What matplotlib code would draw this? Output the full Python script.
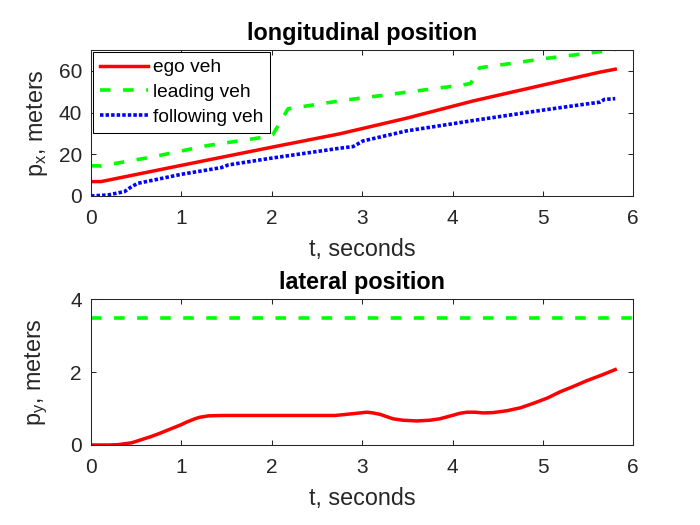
import numpy as np
import matplotlib
matplotlib.use('Agg')
import matplotlib.pyplot as plt

plt.rcParams['font.family'] = ['Liberation Sans', 'DejaVu Sans']
plt.rcParams['mathtext.fontset'] = 'custom'
plt.rcParams['mathtext.rm'] = 'Liberation Sans'
plt.rcParams['lines.scale_dashes'] = False

# longitudinal position (m)
t_ego = [0, 0.11, 1.0, 2.0, 2.75, 3.49, 4.23, 5.0, 5.63, 5.8]
px_ego = [6.9, 6.9, 14.7, 23.4, 29.8, 37.3, 45.6, 53.2, 59.4, 60.8]

t_lead = [0, 0.11, 0.7, 1.29, 1.96, 2.01, 2.18, 2.75, 2.84, 4.12, 4.2, 4.3, 4.67, 5.0, 5.41, 5.8]
px_lead = [14.5, 14.4, 18.9, 24.2, 28.5, 29.3, 41.8, 45.6, 46.1, 53.3, 54.0, 61.5, 63.7, 65.8, 68.0, 70.1]

t_fol = [0, 0.19, 0.37, 0.45, 0.52, 0.70, 1.0, 1.44, 1.52, 1.99, 2.75, 2.90, 3.01,
         3.49, 4.23, 4.97, 5.41, 5.63, 5.68, 5.8]
px_fol = [0, 0.5, 2.1, 4.5, 6.1, 7.7, 10.4, 13.6, 14.9, 18.1, 22.9, 23.7, 26.4,
          31.2, 36.2, 41.0, 43.7, 45.0, 46.3, 46.7]

# lateral position (m)
t_lat = [0, 0.1, 0.2, 0.3, 0.45, 0.55, 0.65, 0.75, 0.85, 0.93, 1.0, 1.05, 1.1, 1.15, 1.2,
         1.25, 1.3, 1.45, 2.0, 2.7, 2.9, 3.05, 3.12, 3.2, 3.34, 3.45, 3.6, 3.75, 3.86,
         4.01, 4.08, 4.16, 4.25, 4.34, 4.45, 4.6, 4.75, 4.89, 5.05, 5.19, 5.33, 5.48,
         5.65, 5.8]
py_ego = [0, 0, 0, 0.01, 0.06, 0.14, 0.22, 0.31, 0.41, 0.49, 0.56, 0.62, 0.67, 0.72, 0.76,
          0.78, 0.8, 0.81, 0.81, 0.81, 0.86, 0.9, 0.88, 0.84, 0.72, 0.68, 0.66, 0.68, 0.72,
          0.82, 0.87, 0.9, 0.9, 0.88, 0.89, 0.94, 1.02, 1.14, 1.29, 1.46, 1.6, 1.76,
          1.92, 2.07]
t_lane = [0, 6]
py_lead = [3.5, 3.5]

axc = '#262626'
fig = plt.figure(figsize=(7, 5.25), dpi=100)
ax1 = fig.add_axes([0.13, 0.6267, 0.7747, 0.278])
ax2 = fig.add_axes([0.13, 0.1524, 0.7747, 0.2775])

ax1.plot(t_ego, px_ego, color=(1, 0, 0), lw=2.5, label='ego veh')
ax1.plot(t_lead, px_lead, color=(0, 1, 0), lw=2.6, dashes=(7.6, 9.0), label='leading veh')
ax1.plot(t_fol, px_fol, color=(0, 0, 1), lw=2.6, dashes=(2.5, 1.5), dash_capstyle='butt',
         label='following veh')
ax1.set_ylim(0, 70)
ax1.set_yticks([0, 20, 40, 60])
ax1.set_title('longitudinal position', fontsize=16.8, fontweight='bold', pad=7.2)
ax1.set_ylabel(r'p$_\mathregular{x}$, meters', fontsize=16.8, color=axc)
leg = ax1.legend(loc='upper left', fontsize=13.8, handlelength=2.5, handletextpad=0.25,
                 borderpad=0.35, borderaxespad=0.12, labelspacing=0.38, fancybox=False,
                 framealpha=1)
leg.get_frame().set_edgecolor('black')
leg.get_frame().set_linewidth(0.75)

ax2.plot(t_lat, py_ego, color=(1, 0, 0), lw=2.5)
ax2.plot(t_lane, py_lead, color=(0, 1, 0), lw=2.6, dashes=(7.6, 9.0))
ax2.set_ylim(0, 4)
ax2.set_yticks([0, 2, 4])
ax2.set_title('lateral position', fontsize=16.8, fontweight='bold', pad=7.2)
ax2.set_ylabel(r'p$_\mathregular{y}$, meters', fontsize=16.8, color=axc)

for ax in (ax1, ax2):
    ax.set_xlim(0, 6)
    ax.set_xticks(range(7))
    ax.set_xlabel('t, seconds', fontsize=16.8, color=axc)
    ax.xaxis.set_label_coords(0.5, -0.285)
    ax.yaxis.set_label_coords(-0.076, 0.5)
    ax.tick_params(direction='in', length=3.6, width=0.75, top=True, right=True,
                   labelsize=15, colors=axc)
    ax.tick_params(axis='x', pad=9.5)
    ax.tick_params(axis='y', pad=6.5)
    for s in ax.spines.values():
        s.set_color(axc)
        s.set_linewidth(0.75)

fig.savefig('out.png', dpi=100, facecolor='white')
